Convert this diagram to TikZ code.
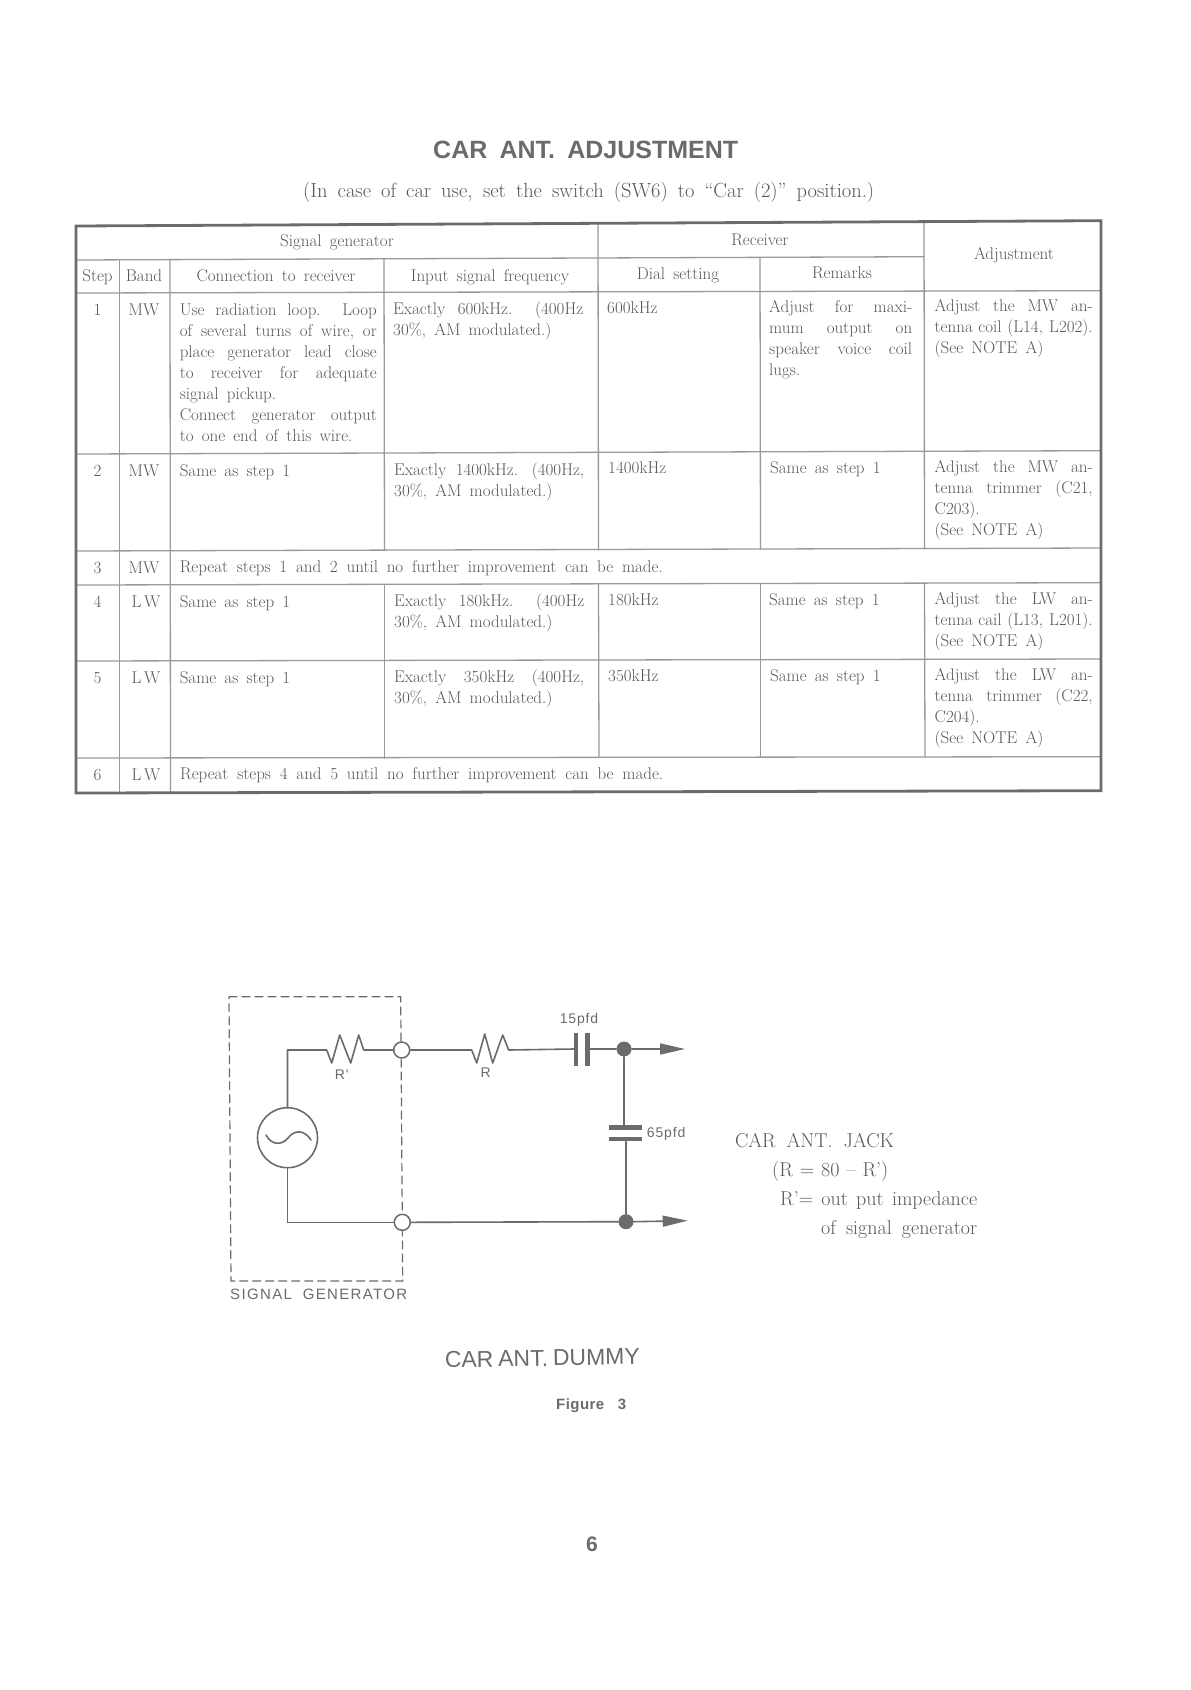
\documentclass[tikz,border=0pt]{standalone}
\usepackage{fontspec}
\usetikzlibrary{arrows.meta}

\newfontfamily\headfont{Liberation Sans}
\newfontfamily\labelfont[LetterSpace=6]{Liberation Sans}
\newfontfamily\tagfont[LetterSpace=9]{Liberation Sans}
\newfontfamily\figfont[LetterSpace=3]{Liberation Sans}
\newcommand{\cellfont}{\fontsize{17}{21}\selectfont\spaceskip=.48em plus .8em minus .2em\relax\tolerance=9999\hyphenpenalty=10000\relax}
\newcommand{\subfont}{\fontsize{20.5}{24}\selectfont\spaceskip=.4em plus 1em minus .1em\relax}
\newcommand{\fitline}[2]{\hbox to #1pt{#2}}
\definecolor{ink}{gray}{0.42}
\definecolor{textink}{gray}{0.34}
\definecolor{rulegray}{gray}{0.6}

\begin{document}
\begin{tikzpicture}[x=1pt, y=-1pt, line cap=round,
    cell_style/.style = {anchor=base west, inner sep=0pt, text=textink, font=\cellfont},
    mid_style/.style = {anchor=base, inner sep=0pt, text=textink, font=\cellfont},
    multi_style/.style = {anchor=north west, inner sep=0pt, text=textink, font=\cellfont, yshift=15pt,
        align=justify, execute at begin node={\rule{0pt}{15pt}}},
    note_style/.style = {anchor=base west, inner sep=0pt, text=textink, font=\fontsize{20}{23}\selectfont},
    tag_style/.style = {inner sep=0pt, text=ink, font=\labelfont\fontsize{14}{16}\selectfont},
    rule_style/.style = {draw=rulegray, line width=1.3pt},
    frame_style/.style = {draw=ink, line width=2.8pt},
    wire_style/.style = {draw=ink, line width=1.6pt},
    plate_style/.style = {fill=ink, inner sep=0pt},
    term_style/.style = {draw=ink, fill=white, circle, line width=1.5pt, minimum size=16pt, inner sep=0pt},
    dot_style/.style = {fill=ink, circle, minimum size=15pt, inner sep=0pt},
    arrow_style/.style = {wire_style, -{Triangle[length=25pt, width=11pt]}}]

\useasboundingbox (0,0) rectangle (1191,1690);

% Title
\node[anchor=base west, inner sep=0pt, text=ink, font=\headfont\bfseries\fontsize{25}{28}\selectfont] (title) at (433,158) {\fitline{305}{CAR ANT. ADJUSTMENT}};
\node[anchor=base west, inner sep=0pt, text=textink, font=\subfont] (subtitle) at (303,197.5) {\fitline{571}{(In case of car use, set the switch (SW6) to “Car (2)” position.)}};

% Horizontal rules
\draw[rule_style] (76,260) -- (924,256.7);
\draw[rule_style] (76,293) -- (1101,290.7);
\draw[rule_style] (76,454) -- (1101,450.7);
\draw[rule_style] (76,551) -- (1101,548);
\draw[rule_style] (76,585) -- (1101,582.7);
\draw[rule_style] (76,661) -- (1101,659);
\draw[rule_style] (76,758) -- (1101,756.7);

% Vertical rules
\draw[rule_style] (119.5,260) -- (119.5,792);
\draw[rule_style] (170,260) -- (170.5,792);
\draw[rule_style] (384,259) -- (384.5,550);
\draw[rule_style] (384.5,585) -- (384.5,758);
\draw[rule_style] (598,224) -- (598.5,550);
\draw[rule_style] (598.5,584) -- (599,757);
\draw[rule_style] (760,258) -- (760.5,549);
\draw[rule_style] (760.5,584) -- (760.5,757);
\draw[rule_style] (924,221) -- (924.5,549);
\draw[rule_style] (924.5,583) -- (925,757);

% Outer frame
\draw[frame_style] (76,226) -- (1101,220.7) -- (1101,790.7) -- (76,793) -- cycle;

% Header
\node[mid_style] (h_sig) at (337,246.7) {Signal generator};
\node[mid_style] (h_rec) at (760,245) {Receiver};
\node[mid_style] (h_adj) at (1014,259) {Adjustment};
\node[mid_style] (h_step) at (97.5,281.7) {Step};
\node[mid_style] (h_band) at (144,281.7) {Band};
\node[mid_style] (h_conn) at (276,281.7) {Connection to receiver};
\node[mid_style] (h_input) at (490,281) {Input signal frequency};
\node[mid_style] (h_dial) at (678,279) {Dial setting};
\node[mid_style] (h_rem) at (842,278) {Remarks};

% Row 1
\node[mid_style] (s1) at (97.5,315) {1};
\node[mid_style] (b1) at (144,315) {MW};
\node[multi_style, text width=197pt] (c1) at (179.6,315) {Use radiation loop.\ \ Loop\linebreak of several turns of wire, or\linebreak place generator lead close\linebreak to receiver for adequate\linebreak signal pickup.\\ Connect generator output\linebreak to one end of this wire.};
\node[multi_style, text width=190pt] (i1) at (393,314) {Exactly 600kHz. (400Hz\linebreak 30\%, AM modulated.)};
\node[cell_style] (d1) at (607,313) {600kHz};
\node[multi_style, text width=143pt] (r1) at (769,312) {Adjust for maxi-\linebreak mum output on\linebreak speaker voice coil\linebreak lugs.};
\node[multi_style, text width=158pt] (a1) at (934.5,311) {Adjust the MW an-\linebreak tenna coil (L14, L202).\linebreak (See NOTE A)};

% Row 2
\node[mid_style] (s2) at (97.5,476) {2};
\node[mid_style] (b2) at (144,476) {MW};
\node[cell_style] (c2) at (179.6,476) {Same as step 1};
\node[multi_style, text width=190pt] (i2) at (394,475) {Exactly 1400kHz. (400Hz,\linebreak 30\%, AM modulated.)};
\node[cell_style] (d2) at (608,473) {1400kHz};
\node[cell_style] (r2) at (770,473) {Same as step 1};
\node[multi_style, text width=158pt] (a2) at (934.5,472.3) {Adjust the MW an-\linebreak tenna trimmer (C21,\linebreak C203).\\ (See NOTE A)};

% Row 3
\node[mid_style] (s3) at (97.5,573) {3};
\node[mid_style] (b3) at (144,573) {MW};
\node[cell_style] (c3) at (179.6,572.5) {\fitline{483}{Repeat steps 1 and 2 until no further improvement can be made.}};

% Row 4
\node[mid_style] (s4) at (97.5,607.7) {4};
\node[mid_style] (b4) at (146,607.7) {L\,W};
\node[cell_style] (c4) at (179.6,607.7) {Same as step 1};
\node[multi_style, text width=190pt] (i4) at (394,606) {Exactly 180kHz. (400Hz\linebreak 30\%, AM modulated.)};
\node[cell_style] (d4) at (608,605) {180kHz};
\node[cell_style] (r4) at (769,605) {Same as step 1};
\node[multi_style, text width=158pt] (a4) at (934.5,604) {Adjust the LW an-\linebreak tenna cail (L13, L201).\linebreak (See NOTE A)};

% Row 5
\node[mid_style] (s5) at (97.5,683) {5};
\node[mid_style] (b5) at (146,683) {L\,W};
\node[cell_style] (c5) at (179.6,683) {Same as step 1};
\node[multi_style, text width=190pt] (i5) at (394,682) {Exactly 350kHz (400Hz,\linebreak 30\%, AM modulated.)};
\node[cell_style] (d5) at (608,681) {350kHz};
\node[cell_style] (r5) at (770,681) {Same as step 1};
\node[multi_style, text width=158pt] (a5) at (934.5,680.7) {Adjust the LW an-\linebreak tenna trimmer (C22,\linebreak C204).\\ (See NOTE A)};

% Row 6
\node[mid_style] (s6) at (97.5,780) {6};
\node[mid_style] (b6) at (146,780) {L\,W};
\node[cell_style] (c6) at (180,779) {\fitline{483}{Repeat steps 4 and 5 until no further improvement can be made.}};

% Signal generator box
\draw[draw=ink, dash pattern=on 8pt off 5pt, line width=1.2pt] (229,996.7) -- (400.7,996.7) -- (402.7,1281) -- (231,1281) -- cycle;
\node[anchor=base west, tag_style, font=\tagfont\fontsize{15}{17}\selectfont] (gen_lbl) at (230,1299.3) {\fitline{177}{SIGNAL\hfil GENERATOR}};

% Circuit parts
\node[draw=ink, circle, line width=1.6pt, minimum size=60pt, inner sep=0pt] (gen) at (287.5,1137.7) {};
\node[term_style] (term_a) at (401.7,1050) {};
\node[term_style] (term_b) at (402.3,1222.3) {};
\node[dot_style] (dot_a) at (624,1049) {};
\node[dot_style] (dot_b) at (626,1221.7) {};
\node[plate_style, minimum width=4.5pt, minimum height=33pt] (cap_a_l) at (576,1049) {};
\node[plate_style, minimum width=4.5pt, minimum height=33pt] (cap_a_r) at (587.7,1049) {};
\node[plate_style, minimum width=33pt, minimum height=4.5pt] (cap_b_t) at (625,1127.7) {};
\node[plate_style, minimum width=33pt, minimum height=4.5pt] (cap_b_b) at (625,1139) {};
\coordinate (res_a) at (326.7,1050);
\coordinate (res_b) at (471.7,1050);
\coordinate (out_a) at (685,1049);
\coordinate (out_b) at (687.7,1220.7);

% Top wire through R'
\draw[wire_style, line join=round] (gen.north) |- (res_a) -- ++(5,13) -- ++(8,-28) -- ++(11,28) -- ++(8,-28) -- ++(5,15) -- (term_a.west);

% Wire through R to the first capacitor
\draw[wire_style, line join=round] (term_a.east) -- (res_b) -- ++(5,13) -- ++(8,-29) -- ++(8,29) -- ++(10,-28) -- ++(6,15) -- (cap_a_l.west);

% First capacitor to dot
\draw[wire_style] (cap_a_r.east) -- (dot_a.west);

% Second capacitor
\draw[wire_style] (dot_a.south) -- (cap_b_t.north -| dot_a.south);
\draw[wire_style] (cap_b_b.south -| dot_b.north) -- (dot_b.north);

% Bottom wire
\draw[wire_style] (gen.south) |- (term_b.west);
\draw[wire_style] (term_b.east) -- (dot_b.west);

% Outputs
\draw[arrow_style] (dot_a.east) -- (out_a);
\draw[arrow_style] (dot_b.east) -- (out_b);

% Sine inside the generator
\draw[wire_style] (266,1135) .. controls (272,1146) and (282,1145) .. (288,1138) .. controls (294,1130) and (304,1129) .. (311,1140);

% Circuit labels
\node[tag_style] (lbl_rp) at (341.7,1075) {R'};
\node[tag_style] (lbl_r) at (485.7,1073) {R};
\node[tag_style] (lbl_15) at (579,1020) {15pfd};
\node[tag_style, anchor=west] (lbl_65) at (646.7,1134) {65pfd};

% Notes
\node[note_style] (jack) at (734.8,1147.7) {\fitline{159}{CAR ANT. JACK}};
\node[note_style] (n1) at (772,1176.7) {\fitline{116}{(R = 80 -- R')}};
\node[note_style] (n2) at (780,1205) {\fitline{197}{R'= out put impedance}};
\node[note_style] (n3) at (821,1234) {\fitline{156}{of signal generator}};

% Captions
\node[anchor=base west, inner sep=0pt, text=ink, rotate=1, font=\headfont\fontsize{23}{26}\selectfont] (dummy) at (444.8,1367.7) {\fitline{195}{CAR ANT. DUMMY}};
\node[anchor=base west, inner sep=0pt, text=ink, font=\figfont\bfseries\fontsize{15}{17}\selectfont] (fig) at (556,1409) {\fitline{70}{Figure 3}};
\node[anchor=base, inner sep=0pt, text=ink, font=\headfont\bfseries\fontsize{21}{23}\selectfont] (page) at (592,1551.7) {6};

\end{tikzpicture}
\end{document}
